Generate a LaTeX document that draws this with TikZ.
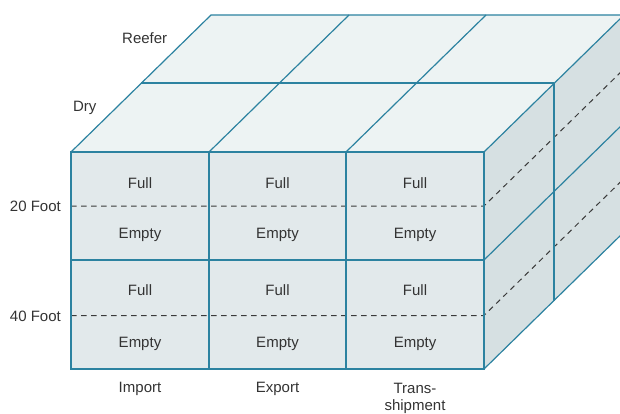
\documentclass[tikz,border=0pt]{standalone}
\usepackage{fontspec}
\setmainfont{Liberation Sans}
\usepackage{tikz}
\usepackage{xcolor}
\usetikzlibrary{calc}

\definecolor{edgeteal}{HTML}{2C82A0}
\definecolor{frontgray}{HTML}{E2E9EB}
\definecolor{topgray}{HTML}{EDF3F3}
\definecolor{sidegray}{HTML}{D6E0E2}
\definecolor{labelgray}{HTML}{333333}
\definecolor{dashgray}{HTML}{3A3A3A}

\tikzset{
  edge/.style={draw=edgeteal, line width=1.2pt},
  split/.style={draw=dashgray, line width=1pt, dash pattern=on 5.5pt off 4.5pt},
  lbl/.style={text=labelgray, font=\fontsize{15}{17}\selectfont, inner sep=0pt, anchor=base},
}

\begin{document}
\begin{tikzpicture}[x=1pt,y=-1pt]
\useasboundingbox (0,0) rectangle (620,414);
\clip (0,0) rectangle (620,414);

% faces
\fill[topgray] (71,152) -- (211,15) -- (624,15) -- (484,152) -- cycle;
\fill[sidegray] (484,152) -- (624,15) -- (624,232) -- (484,369) -- cycle;
\fill[frontgray] (71,152) rectangle (484,369);

% dashed Full/Empty splits
\draw[split] (71,206) -- (484,206) -- (624,69);
\draw[split] (71,315.5) -- (484,315.5) -- (624,178.5);

% front grid
\draw[edge] (71,152) rectangle (484,369);
\draw[edge] (209,152) -- (209,369);
\draw[edge] (346,152) -- (346,369);
\draw[edge] (71,260) -- (484,260);

% top grid
\draw[edge] (71,152) -- (211,15) -- (624,15);
\draw[edge] (209,152) -- (349,15);
\draw[edge] (346,152) -- (486,15);
\draw[edge] (484,152) -- (624,15);
\draw[edge] (141,83) -- (554,83);

% side grid
\draw[edge] (554,83) -- (554,300.5);
\draw[edge] (484,260) -- (624,123);
\draw[edge] (484,369) -- (624,232);
\draw[edge] (624,15) -- (624,232);

% depth labels
\node[lbl] (reefer) at (144.7,43.3) {Reefer};
\node[lbl] (dry) at (84.7,111.7) {Dry};

% size labels
\node[lbl, anchor=base east] (twenty) at (61,211) {20 Foot};
\node[lbl, anchor=base east] (forty) at (61,321) {40 Foot};

% cells
\node[lbl] (impfull1) at (140,188) {Full};
\node[lbl] (impempty1) at (140,238.3) {Empty};
\node[lbl] (expfull1) at (277.5,188) {Full};
\node[lbl] (expempty1) at (277.5,238.3) {Empty};
\node[lbl] (trafull1) at (415,188) {Full};
\node[lbl] (traempty1) at (415,238.3) {Empty};
\node[lbl] (impfull2) at (140,295.3) {Full};
\node[lbl] (impempty2) at (140,347) {Empty};
\node[lbl] (expfull2) at (277.5,295.3) {Full};
\node[lbl] (expempty2) at (277.5,347) {Empty};
\node[lbl] (trafull2) at (415,295.3) {Full};
\node[lbl] (traempty2) at (415,347) {Empty};

% trade labels
\node[lbl] (import) at (140,392.3) {Import};
\node[lbl] (export) at (277.5,392.3) {Export};
\node[lbl] (trans) at (415,393.3) {Trans-};
\node[lbl] (shipment) at (415,410) {shipment};

\end{tikzpicture}
\end{document}
